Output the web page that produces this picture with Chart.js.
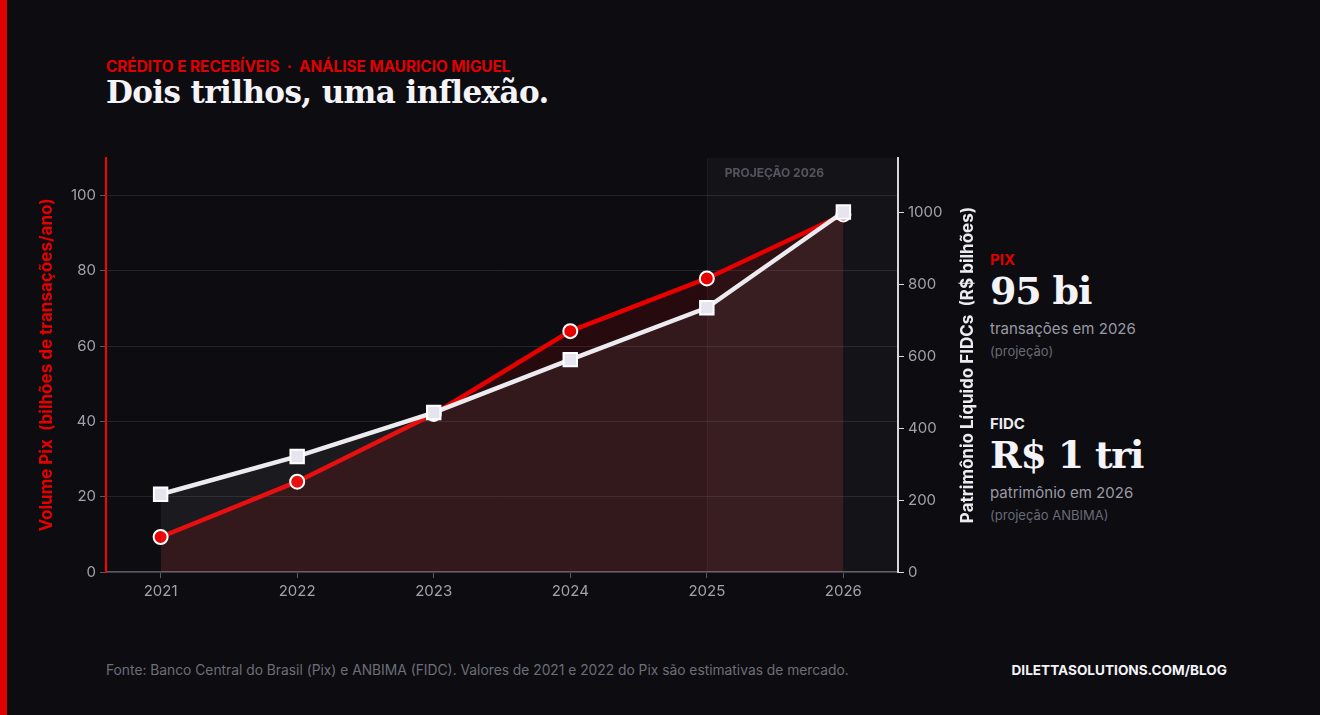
<!DOCTYPE html>
<html lang="pt-BR">
<head>
<meta charset="utf-8">
<title>Dois trilhos, uma inflexão.</title>
<script src="https://cdn.jsdelivr.net/npm/chart.js@4.4.1/dist/chart.umd.min.js"></script>
<style>
  html, body { margin: 0; padding: 0; }
  body {
    width: 1320px; height: 715px; overflow: hidden; position: relative;
    background: #0c0c11; font-family: Inter, "Noto Sans", sans-serif; color: #ecebf0;
  }
  .faixa { position: absolute; left: 0; top: 0; width: 7px; height: 715px; background: #e00000; }
  .kicker { position: absolute; left: 106px; top: 57px; font-size: 15.3px; font-weight: 700; color: #e00000; white-space: nowrap; }
  .titulo { position: absolute; left: 106px; top: 74px; font-family: "DejaVu Serif", serif; font-weight: 700; font-size: 31px; letter-spacing: -0.6px; color: #f4f3f7; white-space: nowrap; }
  #wrap { position: absolute; left: 30px; top: 145px; width: 960px; height: 465px; }
  .painel { position: absolute; left: 990px; white-space: nowrap; }
  .painel .rot { font-size: 15px; font-weight: 700; }
  .painel .big { font-family: "DejaVu Serif", serif; font-weight: 700; font-size: 38px; letter-spacing: -1.2px; color: #f4f3f7; line-height: 44px; }
  .painel .sub { font-size: 15px; color: #9a9aa5; margin-top: 6px; }
  .painel .nota { font-size: 13px; color: #6a6a75; margin-top: 5px; }
  .fonte { position: absolute; left: 106px; top: 662px; font-size: 13.8px; color: #6e6e78; white-space: nowrap; }
  .site { position: absolute; right: 93px; top: 662px; font-size: 13.6px; font-weight: 700; color: #f4f3f7; white-space: nowrap; }
</style>
</head>
<body>
<div class="faixa"></div>
<div class="kicker">CRÉDITO E RECEBÍVEIS &nbsp;·&nbsp; ANÁLISE MAURICIO MIGUEL</div>
<div class="titulo">Dois trilhos, uma inflexão.</div>

<div id="wrap"><canvas id="grafico"></canvas></div>

<div class="painel" style="top:250px">
  <div class="rot" style="color:#e00000">PIX</div>
  <div class="big">95 bi</div>
  <div class="sub">transações em 2026</div>
  <div class="nota">(projeção)</div>
</div>
<div class="painel" style="top:414px">
  <div class="rot" style="color:#ecebf0">FIDC</div>
  <div class="big">R$ 1 tri</div>
  <div class="sub">patrimônio em 2026</div>
  <div class="nota">(projeção ANBIMA)</div>
</div>

<div class="fonte">Fonte: Banco Central do Brasil (Pix) e ANBIMA (FIDC). Valores de 2021 e 2022 do Pix são estimativas de mercado.</div>
<div class="site">DILETTASOLUTIONS.COM/BLOG</div>

<script>
const anos = [2021, 2022, 2023, 2024, 2025, 2026];
const volumePix = [9.3, 24, 42, 64, 78, 95];        // bilhões de transações/ano
const plFidc = [216, 321, 443, 590, 734, 1000];      // R$ bilhões
const inicioProjecao = 2025;
const rotuloProjecao = "PROJEÇÃO 2026";
const tituloPix = "Volume Pix  (bilhões de transações/ano)";
const tituloFidc = "Patrimônio Líquido FIDCs  (R$ bilhões)";

const VERMELHO = "#e60000";
const BRANCO = "#ecebf0";
const CINZA = "#a2a2ac";
const fonteTick = { family: "Inter", size: 15 };

// faixa de projeção + rótulo
const projecao = {
  id: "projecao",
  beforeDatasetsDraw(chart) {
    const { ctx, chartArea, scales } = chart;
    const x0 = scales.x.getPixelForValue(inicioProjecao);
    ctx.save();
    ctx.fillStyle = "rgba(255,255,255,0.03)";
    ctx.fillRect(x0, chartArea.top, chartArea.right - x0, chartArea.bottom - chartArea.top);
    ctx.fillStyle = "rgba(255,255,255,0.05)";
    ctx.fillRect(x0, chartArea.top, 1, chartArea.bottom - chartArea.top);
    ctx.font = "700 12px Inter";
    ctx.fillStyle = "#55555f";
    ctx.textBaseline = "middle";
    ctx.fillText(rotuloProjecao, x0 + 18, chartArea.top + 15);
    ctx.restore();
  }
};

// títulos dos eixos, os dois lidos de baixo para cima
const titulosEixos = {
  id: "titulosEixos",
  afterDraw(chart) {
    const { ctx, chartArea } = chart;
    const cy = (chartArea.top + chartArea.bottom) / 2;
    ctx.save();
    ctx.font = "700 17px Inter";
    ctx.textAlign = "center";
    ctx.textBaseline = "middle";
    [[chartArea.left - 59, tituloPix, VERMELHO], [chartArea.right + 70, tituloFidc, BRANCO]].forEach(([x, t, c]) => {
      ctx.save();
      ctx.translate(x, cy);
      ctx.rotate(-Math.PI / 2);
      ctx.fillStyle = c;
      ctx.fillText(t, 0, 0);
      ctx.restore();
    });
    ctx.restore();
  }
};

const ctx = document.getElementById("grafico").getContext("2d");
new Chart(ctx, {
  type: "line",
  data: {
    datasets: [
      {
        label: "Pix",
        data: anos.map((a, i) => ({ x: a, y: volumePix[i] })),
        yAxisID: "y",
        borderColor: VERMELHO,
        borderWidth: 4.5,
        backgroundColor: "rgba(224,0,0,0.13)",
        fill: "origin",
        pointStyle: "circle",
        pointRadius: 7,
        pointBackgroundColor: VERMELHO,
        pointBorderColor: "#ffffff",
        pointBorderWidth: 2,
        tension: 0,
        order: 2
      },
      {
        label: "FIDC",
        data: anos.map((a, i) => ({ x: a, y: plFidc[i] })),
        yAxisID: "y1",
        borderColor: BRANCO,
        borderWidth: 4.5,
        backgroundColor: "rgba(255,255,255,0.06)",
        fill: "origin",
        pointStyle: "rect",
        pointRadius: 9.5,
        pointBackgroundColor: "#e6e4ee",
        pointBorderColor: "#ffffff",
        pointBorderWidth: 2,
        tension: 0,
        order: 1
      }
    ]
  },
  options: {
    responsive: true,
    maintainAspectRatio: false,
    animation: false,
    events: [],
    layout: { padding: 0 },
    plugins: { legend: { display: false }, tooltip: { enabled: false } },
    scales: {
      x: {
        type: "linear",
        min: 2020.6,
        max: 2026.4,
        afterFit: (s) => { s.height = 38; },
        ticks: {
          stepSize: 1,
          includeBounds: false,
          color: CINZA,
          font: fonteTick,
          padding: 4,
          callback: (v) => (Number.isInteger(v) ? String(v) : "")
        },
        grid: { drawOnChartArea: false, tickLength: 6, tickColor: "#5a5a64" },
        border: { color: "#5a5a64", width: 1.5 }
      },
      y: {
        position: "left",
        min: 0,
        max: 110,
        afterFit: (s) => { s.width = 76; },
        ticks: { stepSize: 20, includeBounds: false, color: CINZA, font: fonteTick, padding: 4, callback: (v) => String(v) },
        grid: { color: "#23232c", tickColor: "#5a5a64", tickLength: 6 },
        border: { color: "#ff0000", width: 2 }
      },
      y1: {
        position: "right",
        min: 0,
        max: 1150,
        afterFit: (s) => { s.width = 92; },
        ticks: { stepSize: 200, includeBounds: false, color: CINZA, font: fonteTick, padding: 4, callback: (v) => String(v) },
        grid: { drawOnChartArea: false, tickColor: "#d8d7e0", tickLength: 6 },
        border: { color: "#d8d7e0", width: 2 }
      }
    }
  },
  plugins: [projecao, titulosEixos]
});
</script>
</body>
</html>
